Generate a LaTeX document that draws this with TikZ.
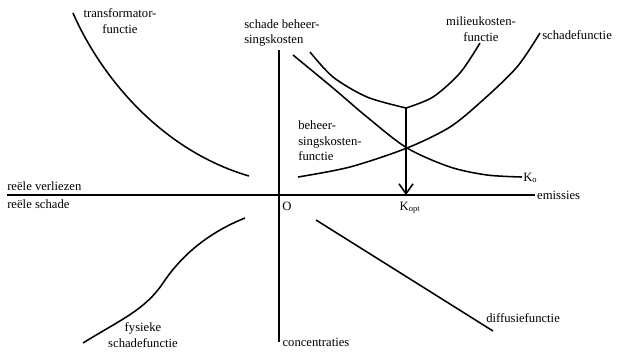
\documentclass[tikz,border=0pt]{standalone}
\usepackage{fontspec}
\setmainfont{Liberation Serif}
\usetikzlibrary{arrows.meta}
\tikzset{lbl/.style={font=\fontsize{9}{11}\selectfont, inner sep=0pt},
  crv/.style={line width=1.1pt}}
\begin{document}
\begin{tikzpicture}[x=0.025cm, y=-0.025cm]
\useasboundingbox (0,0) rectangle (617,351);
\coordinate (xl) at (7,195);
\coordinate (xr) at (535,195);
\coordinate (yt) at (279,50);
\coordinate (yb) at (279,342);
\draw[crv] (xl) -- (xr) node[lbl, anchor=west, xshift=1pt] (emis) {emissies};
\draw[crv] (yt) -- (yb) node[lbl, anchor=west, xshift=2pt] (conc) {concentraties};
\node[lbl, anchor=south west] (verl) at (7,191) {reële verliezen};
\node[lbl, anchor=north west] (sch) at (7,199) {reële schade};
\node[lbl] (nul) at (287,206) {O};
\draw[crv] (73,13) .. controls (100,75) and (160,150) .. (249,176);
\draw[crv] (83,343) .. controls (120,320) and (145,310) .. (163,283)
  .. controls (185,250) and (215,230) .. (245,218);
\draw[crv] (316,220) -- (493,331);
\draw[crv] plot[smooth] coordinates {(310,52) (333,77) (367,97) (406,108)};
\draw[crv] plot[smooth] coordinates {(406,108) (433,97) (460,73) (480,43)};
\draw[crv] plot[smooth] coordinates {(293,55) (333,88) (367,117) (407,148) (450,167) (487,175) (522,177)};
\draw[crv] plot[smooth] coordinates {(298,177) (350,167) (407,148) (450,127) (483,100) (517,67) (540,33)};
\coordinate (mmin) at (406,108);
\coordinate (kopt) at (406,195);
\draw[crv, -{Straight Barb[length=7pt, width=10pt]}] (mmin) -- (kopt);
\node[lbl] (kop) at (410,208) {K\textsubscript{opt}};
\node[lbl, anchor=west] (k0) at (523,178) {K\textsubscript{o}};
\node[lbl, align=center] (trf) at (120,21) {transformator-\\functie};
\node[lbl, align=left, anchor=west] (shb) at (244,33) {schade beheer-\\singskosten};
\node[lbl, align=center] (mkf) at (481,29) {milieukosten-\\functie};
\node[lbl, anchor=west] (shf) at (542,35) {schadefunctie};
\node[lbl, align=left, anchor=west] (bhf) at (298,141) {beheer-\\singskosten-\\functie};
\node[lbl, anchor=west] (dff) at (486,318) {diffusiefunctie};
\node[lbl, align=center] (fys) at (143,335) {fysieke\\schadefunctie};
\end{tikzpicture}
\end{document}
